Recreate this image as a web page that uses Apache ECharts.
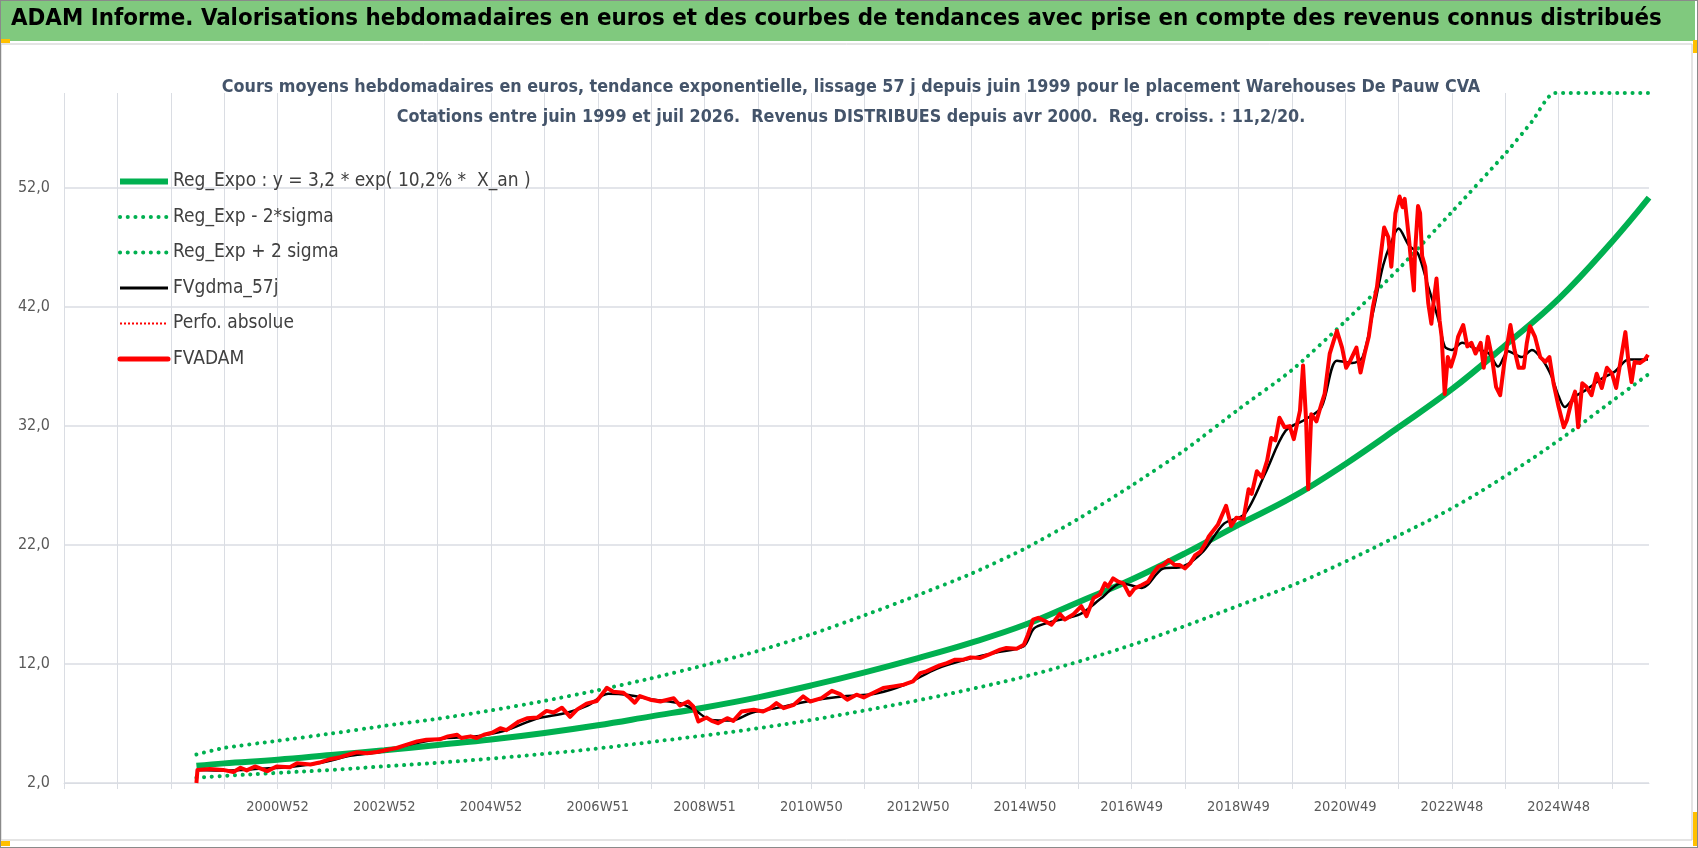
<html>
<head>
    <meta charset="utf-8">
    <script src="https://cdn.jsdelivr.net/npm/echarts/dist/echarts.min.js"></script>
</head>
<body style="margin:0;background:#fff">
<div id="main" style="width:1698px;height:848px"></div>
<script>
    // x = week index, 0 = first week of 1997 (one axis step = 52 weeks)
    var xLabels = ['2000W52', '2002W52', '2004W52', '2006W51', '2008W51', '2010W50', '2012W50',
        '2014W50', '2016W49', '2018W49', '2020W49', '2022W48', '2024W48'];
    var yTicks = [2, 12, 22, 32, 42, 52];

    var regExpo = [[129, 3.45], [156, 3.65], [208, 3.95], [260, 4.35], [312, 4.75], [364, 5.2], [416, 5.65],
        [468, 6.2], [520, 6.85], [572, 7.6], [624, 8.35], [676, 9.2], [728, 10.2], [780, 11.3], [832, 12.5],
        [884, 13.8], [936, 15.3], [988, 17.2], [1040, 19.1], [1092, 21.3], [1144, 23.7], [1196, 26.0],
        [1248, 28.8], [1300, 31.9], [1352, 35.1], [1404, 38.8], [1456, 42.7], [1508, 47.5], [1544, 51.2]];

    var regLow = [[129, 2.45], [156, 2.6], [208, 2.85], [260, 3.1], [312, 3.4], [364, 3.7], [416, 4.05],
        [468, 4.45], [520, 4.9], [572, 5.45], [624, 6.0], [676, 6.6], [728, 7.3], [780, 8.1], [832, 8.95],
        [884, 9.9], [936, 10.95], [988, 12.2], [1040, 13.6], [1092, 15.2], [1144, 16.9], [1196, 18.6],
        [1248, 20.6], [1300, 22.8], [1352, 25.1], [1404, 27.8], [1456, 30.8], [1508, 34.1], [1544, 36.4]];

    var regHigh = [[129, 4.4], [156, 4.95], [208, 5.55], [260, 6.15], [312, 6.8], [364, 7.4], [416, 8.1],
        [468, 8.9], [520, 9.8], [572, 10.8], [624, 11.9], [676, 13.1], [728, 14.5], [780, 16.1], [832, 17.8],
        [884, 19.6], [936, 21.7], [988, 24.2], [1040, 27.0], [1092, 30.0], [1144, 33.4], [1196, 36.7],
        [1248, 40.8], [1300, 45.2], [1352, 50.0], [1404, 54.9], [1430, 57.6], [1452, 60], [1544, 60]];

    var fvgdma = [[130, 3.1], [160, 3.05], [190, 3.2], [220, 3.35], [250, 3.7], [280, 4.3], [310, 4.65],
        [340, 5.3], [370, 5.75], [400, 5.9], [430, 6.4], [460, 7.4], [490, 7.9], [510, 8.5], [530, 9.5],
        [550, 9.4], [575, 9.0], [600, 8.7], [615, 8.1], [630, 7.3], [650, 7.25], [670, 7.9], [700, 8.4],
        [730, 8.95], [760, 9.3], [790, 9.5], [820, 10.3], [850, 11.6], [880, 12.4], [910, 13.0], [935, 13.5],
        [945, 15.0], [960, 15.5], [990, 16.2], [1010, 17.5], [1030, 18.8], [1050, 18.4], [1070, 20.0],
        [1090, 20.2], [1110, 21.5], [1130, 23.8], [1150, 24.6], [1170, 28.0], [1190, 31.6], [1210, 32.6],
        [1225, 33.6], [1240, 37.5], [1255, 37.3], [1265, 37.8], [1275, 41.5], [1285, 45.5], [1293, 47.5],
        [1300, 48.6], [1310, 47.2], [1319, 46.5], [1329, 43.7], [1339, 40.9], [1345, 38.7], [1352, 38.4],
        [1362, 39.0], [1375, 38.5], [1388, 38.1], [1397, 37.0], [1407, 38.3], [1420, 37.8], [1430, 38.4],
        [1440, 37.6], [1449, 36.2], [1456, 34.5], [1462, 33.6], [1472, 34.5], [1482, 35.0], [1498, 36.0],
        [1511, 36.6], [1524, 37.6], [1543, 37.6]];

    var fvadam = [[129, 2.0], [130, 3.1], [142, 3.17], [155, 3.1], [165, 2.92], [172, 3.28], [178, 3.06],
        [186, 3.39], [198, 3.0], [207, 3.39], [220, 3.33], [227, 3.67], [240, 3.56], [249, 3.72], [259, 4.0],
        [269, 4.17], [279, 4.44], [285, 4.58], [295, 4.5], [305, 4.61], [314, 4.78], [324, 4.94], [334, 5.22],
        [344, 5.5], [353, 5.64], [366, 5.67], [374, 5.92], [383, 6.06], [387, 5.78], [396, 5.92], [402, 5.78],
        [409, 6.06], [417, 6.22], [425, 6.61], [431, 6.44], [443, 7.17], [451, 7.44], [461, 7.5], [470, 8.06],
        [477, 7.92], [485, 8.33], [493, 7.56], [500, 8.19], [509, 8.67], [519, 8.89], [529, 10.0], [535, 9.67],
        [545, 9.58], [551, 9.17], [556, 8.75], [561, 9.31], [571, 9.0], [581, 8.85], [594, 9.13], [600, 8.52],
        [608, 8.85], [613, 8.43], [618, 7.17], [626, 7.5], [631, 7.22], [637, 7.03], [646, 7.45], [652, 7.22],
        [660, 8.01], [672, 8.15], [681, 8.01], [688, 8.29], [694, 8.71], [701, 8.29], [711, 8.57], [720, 9.28],
        [727, 8.85], [738, 9.13], [748, 9.75], [756, 9.47], [763, 9.0], [772, 9.42], [779, 9.19], [788, 9.56],
        [798, 9.98], [808, 10.12], [818, 10.26], [827, 10.54], [834, 11.24], [840, 11.38], [847, 11.66],
        [853, 11.89], [860, 12.08], [868, 12.37], [876, 12.37], [883, 12.56], [892, 12.5], [902, 12.84],
        [912, 13.21], [918, 13.35], [928, 13.29], [935, 13.63], [939, 14.47], [944, 15.74], [949, 15.88],
        [956, 15.6], [962, 15.31], [970, 16.21], [975, 15.74], [983, 16.16], [991, 16.86], [996, 16.02],
        [1003, 17.56], [1009, 17.84], [1014, 18.78], [1017, 18.5], [1022, 19.2], [1027, 18.92], [1032, 18.78],
        [1038, 17.8], [1043, 18.36], [1050, 18.64], [1056, 18.92], [1061, 19.62], [1066, 20.18], [1071, 20.32],
        [1076, 20.74], [1082, 20.32], [1087, 20.32], [1092, 20.04], [1097, 20.46], [1102, 21.16], [1107, 21.44],
        [1112, 22.14], [1115, 22.7], [1124, 23.7], [1132, 25.3], [1137, 23.6], [1142, 24.3], [1149, 24.2],
        [1154, 26.7], [1157, 26.3], [1162, 28.2], [1167, 27.7], [1172, 29.1], [1176, 31.0], [1180, 30.8],
        [1184, 32.7], [1189, 31.9], [1194, 32.0], [1198, 30.9], [1204, 33.3], [1207, 37.1], [1210, 32.4],
        [1212, 26.7], [1215, 33.0], [1220, 32.4], [1225, 33.9], [1228, 34.7], [1233, 38.1], [1237, 39.2],
        [1240, 40.0], [1245, 38.6], [1249, 36.9], [1253, 37.5], [1259, 38.6], [1263, 36.5], [1267, 38.1],
        [1271, 39.5], [1275, 42.0], [1279, 43.7], [1282, 45.9], [1286, 48.7], [1290, 47.9], [1293, 45.4],
        [1297, 49.9], [1301, 51.3], [1304, 50.4], [1306, 51.1], [1310, 47.9], [1313, 45.1], [1315, 43.4],
        [1316, 46.5], [1319, 50.5], [1321, 49.9], [1323, 46.3], [1326, 45.4], [1329, 42.3], [1332, 40.6],
        [1334, 42.3], [1337, 44.4], [1340, 40.9], [1342, 39.5], [1345, 34.7], [1348, 37.8], [1351, 37.0],
        [1355, 38.1], [1358, 39.5], [1363, 40.5], [1367, 38.7], [1371, 39.0], [1375, 38.1], [1380, 39.0],
        [1383, 36.9], [1387, 39.5], [1391, 37.8], [1395, 35.3], [1399, 34.6], [1403, 37.3], [1409, 40.5],
        [1413, 38.4], [1417, 36.9], [1422, 36.9], [1425, 39.0], [1428, 40.4], [1433, 39.5], [1438, 37.8],
        [1443, 37.4], [1447, 37.8], [1451, 35.6], [1456, 33.6], [1461, 31.9], [1464, 32.5], [1468, 33.9],
        [1472, 34.9], [1475, 31.9], [1479, 35.6], [1483, 35.3], [1488, 34.6], [1493, 36.4], [1498, 35.2],
        [1503, 36.9], [1508, 36.4], [1512, 35.2], [1516, 37.3], [1521, 39.9], [1524, 37.4], [1527, 35.7],
        [1530, 37.4], [1535, 37.3], [1540, 37.6], [1543, 38.0]];

    var narrow = "'Liberation Sans Narrow', 'Arial Narrow', 'DejaVu Sans Condensed', sans-serif";
    var green = '#00b050';
    var red = '#ff0000';
    var gridColor = '#dadde3';
    var dots = [0.1, 7.6];

    var names = ['Reg_Expo : y = 3,2 * exp( 10,2% *  X_an )', 'Reg_Exp - 2*sigma', 'Reg_Exp + 2 sigma',
        'FVgdma_57j', 'Perfo. absolue', 'FVADAM'];

    var chart = echarts.init(document.getElementById('main'), null, {renderer: 'canvas'});

    var option = {
        animation: false,
        backgroundColor: '#ffffff',
        graphic: [
            {type: 'rect', shape: {x: 1, y: 44, width: 1691, height: 796}, style: {fill: '#fff', stroke: '#c9c9c9', lineWidth: 1}, z: -10},
            {type: 'rect', shape: {x: 0, y: 0, width: 1695, height: 41}, style: {fill: '#80c97e'}, z: -5},
            {type: 'rect', shape: {x: 0, y: 0, width: 1698, height: 848}, style: {fill: 'none', stroke: '#8a8a8a', lineWidth: 2}, z: 10},
            {type: 'rect', shape: {x: 0, y: 39, width: 10, height: 4}, style: {fill: '#ffc000'}},
            {type: 'rect', shape: {x: 0, y: 841, width: 10, height: 5}, style: {fill: '#ffc000'}},
            {type: 'rect', shape: {x: 1693, y: 40, width: 5, height: 13}, style: {fill: '#ffc000'}},
            {type: 'rect', shape: {x: 1693, y: 812, width: 5, height: 34}, style: {fill: '#ffc000'}},
            {
                type: 'text', left: 11, top: 7,
                style: {
                    text: 'ADAM Informe. Valorisations hebdomadaires en euros et des courbes de tendances avec prise en compte des revenus connus distribués',
                    font: 'bold 23.8px ' + narrow, fill: '#000'
                }
            }
        ],
        title: {
            text: 'Cours moyens hebdomadaires en euros, tendance exponentielle, lissage 57 j depuis juin 1999 pour le placement Warehouses De Pauw CVA\nCotations entre juin 1999 et juil 2026.  Revenus DISTRIBUES depuis avr 2000.  Reg. croiss. : 11,2/20.',
            left: 846,
            top: 67,
            textAlign: 'center',
            textStyle: {fontFamily: narrow, fontSize: 17.8, fontWeight: 'bold', color: '#44546a', lineHeight: 30}
        },
        legend: {
            orient: 'vertical',
            left: 112,
            top: 167,
            itemWidth: 48,
            itemHeight: 14,
            itemGap: 16.5,
            selectedMode: false,
            itemStyle: {opacity: 0},
            textStyle: {fontFamily: narrow, fontSize: 19, color: '#404040'},
            data: [
                {name: names[0], lineStyle: {color: green, width: 6}},
                {name: names[1], lineStyle: {color: green, width: 4, type: dots, cap: 'round'}},
                {name: names[2], lineStyle: {color: green, width: 4, type: dots, cap: 'round'}},
                {name: names[3], lineStyle: {color: '#000', width: 3}},
                {name: names[4], lineStyle: {color: red, width: 2, type: [2, 2]}},
                {name: names[5], lineStyle: {color: red, width: 5, cap: 'round'}}
            ]
        },
        grid: {left: 64, right: 49, top: 93, bottom: 65, containLabel: false, outerBoundsMode: 'none'},
        xAxis: {
            type: 'value',
            min: 0,
            max: 1544,
            interval: 52,
            axisLine: {lineStyle: {color: gridColor}},
            axisTick: {show: true, length: 6, lineStyle: {color: gridColor}},
            splitLine: {show: true, showMaxLine: false, lineStyle: {color: gridColor}},
            axisLabel: {
                margin: 17,
                fontFamily: narrow,
                fontSize: 14.5,
                color: '#595959',
                showMaxLabel: false,
                formatter: function (v) {
                    var k = Math.round(v / 52);
                    if (k >= 4 && k % 2 === 0) {
                        return xLabels[(k - 4) / 2] || '';
                    }
                    return '';
                }
            }
        },
        yAxis: {
            type: 'value',
            min: 2,
            max: 60,
            axisLine: {show: false},
            axisTick: {show: false, customValues: yTicks},
            splitLine: {show: true, lineStyle: {color: gridColor, width: 1.5}},
            axisLabel: {
                customValues: yTicks,
                margin: 14,
                fontFamily: narrow,
                fontSize: 16,
                color: '#595959',
                formatter: function (v) {
                    return v.toFixed(1).replace('.', ',');
                }
            }
        },
        series: [
            {
                name: names[0],
                type: 'line', data: regExpo, symbol: 'none', smooth: 0.4, z: 2,
                lineStyle: {color: green, width: 6}, itemStyle: {color: green}
            },
            {
                name: names[1],
                type: 'line', data: regLow, symbol: 'none', smooth: 0.4, z: 2,
                lineStyle: {color: green, width: 4, type: dots, cap: 'round'}, itemStyle: {color: green}
            },
            {
                name: names[2],
                type: 'line', data: regHigh, symbol: 'none', smooth: 0.2, z: 2,
                lineStyle: {color: green, width: 4, type: dots, cap: 'round'}, itemStyle: {color: green}
            },
            {
                name: names[3],
                type: 'line', data: fvgdma, symbol: 'none', smooth: 0.3, z: 3,
                lineStyle: {color: '#000', width: 2.5}, itemStyle: {color: '#000'}
            },
            {
                name: names[4],
                type: 'line', data: [], symbol: 'none', z: 3,
                lineStyle: {color: red, width: 1.5, type: [2, 2]}, itemStyle: {color: red}
            },
            {
                name: names[5],
                type: 'line', data: fvadam, symbol: 'none', z: 4,
                lineStyle: {color: red, width: 4, join: 'round'}, itemStyle: {color: red}
            }
        ]
    };

    chart.setOption(option);
</script>
</body>
</html>
